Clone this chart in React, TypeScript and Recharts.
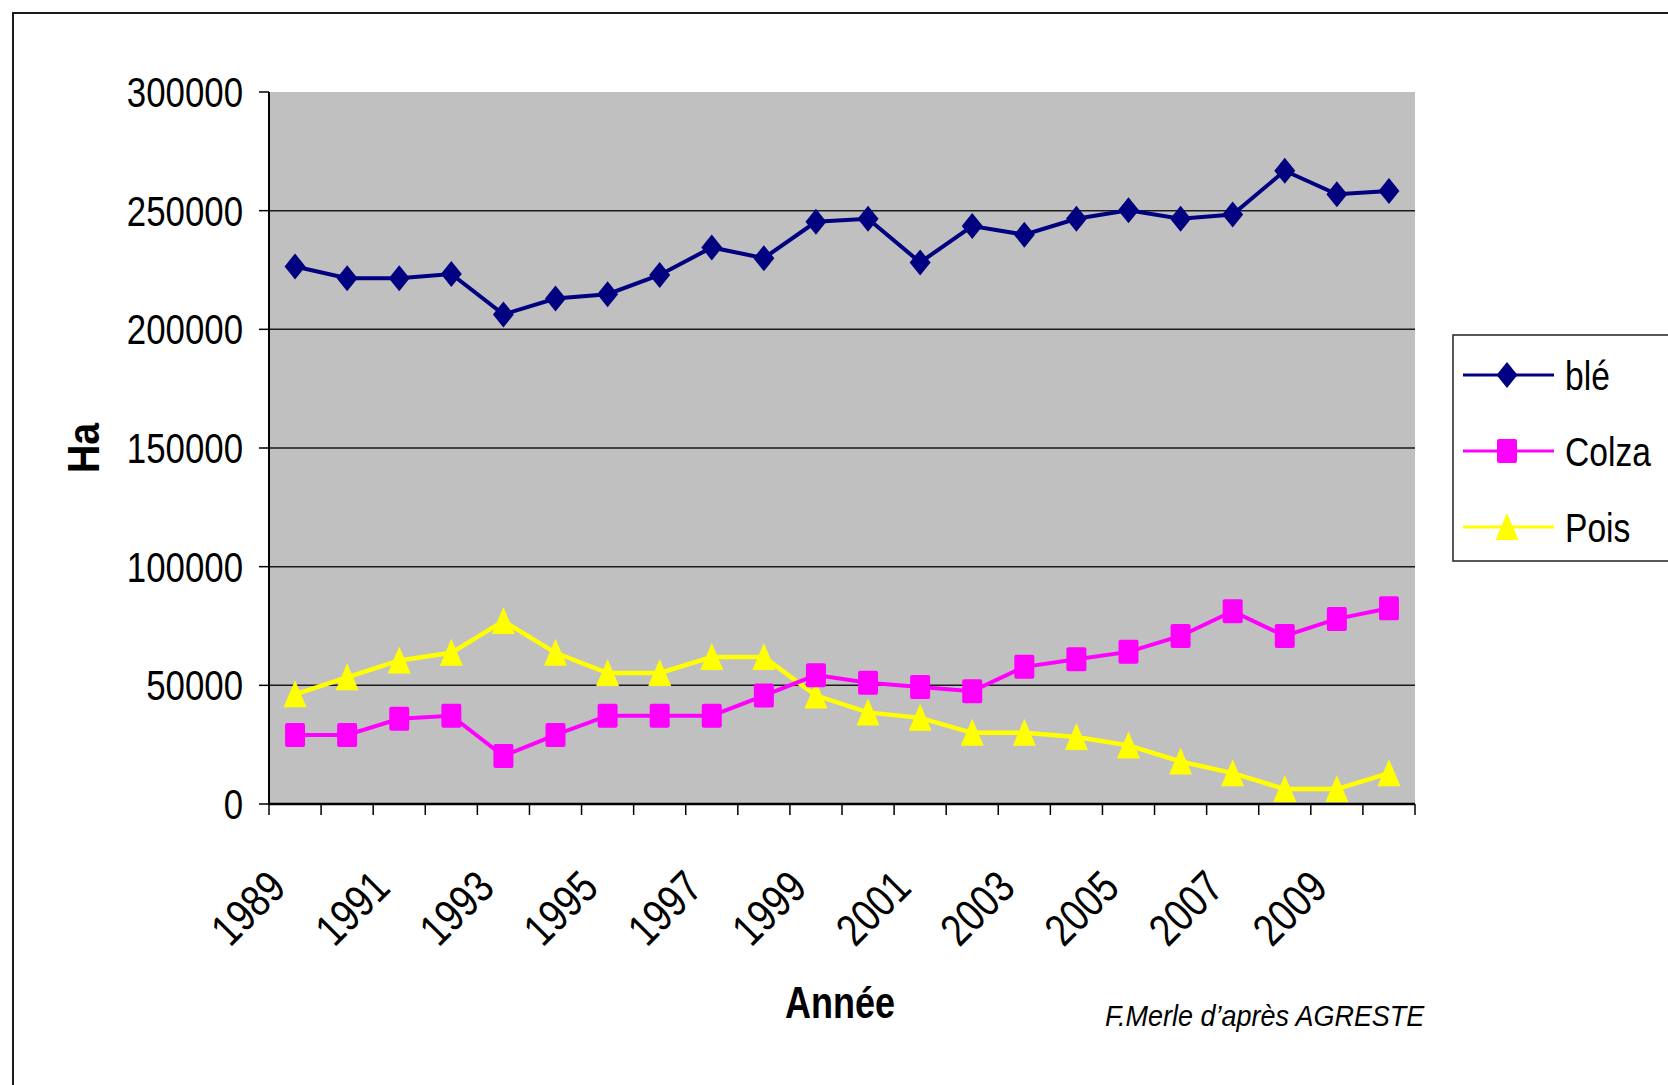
import React from 'react';
import { LineChart, Line, XAxis, YAxis, CartesianGrid, Legend } from 'recharts';

const YEARS = [
  '1989', '1990', '1991', '1992', '1993', '1994', '1995', '1996', '1997', '1998', '1999',
  '2000', '2001', '2002', '2003', '2004', '2005', '2006', '2007', '2008', '2009', '2010',
];

const BLE = [
  226500, 221500, 221500, 223300, 206300, 213000, 214800, 222900, 234500, 230000, 245300,
  246600, 228200, 243500, 239900, 246600, 250200, 246600, 248400, 266800, 256900, 258300,
];

const COLZA = [
  29100, 29100, 35900, 37200, 20200, 29100, 37200, 37200, 37200, 45700, 54300,
  51100, 49300, 47500, 57800, 61000, 64100, 70800, 81200, 70800, 78000, 82500,
];

const POIS = [
  46200, 53400, 60500, 63700, 77100, 63700, 55200, 55200, 61900, 61900, 45700,
  38600, 36300, 30000, 30000, 28200, 24700, 17900, 13000, 6300, 6300, 13000,
];

const Y_TICKS = [0, 50000, 100000, 150000, 200000, 250000, 300000];
const GRID_VALUES = [50000, 100000, 150000, 200000, 250000];

// no narrow font installed: squeeze Liberation Sans horizontally instead
const FONT = "'Liberation Sans', Arial, sans-serif";

const data = YEARS.map((year, i) => ({
  x: i + 0.5,
  year,
  ble: BLE[i],
  colza: COLZA[i],
  pois: POIS[i],
}));

// ticks at category boundaries (integers) and label slots at centres (x.5)
const X_TICKS: number[] = [];
for (let i = 0; i <= YEARS.length * 2; i++) X_TICKS.push(i / 2);

const NAVY = '#000080';
const MAGENTA = '#ff00ff';
const YELLOW = '#ffff00';

type NTProps = {
  x: number;
  y: number;
  size: number;
  squeeze?: number;
  anchor?: 'start' | 'middle' | 'end';
  rotate?: number;
  bold?: boolean;
  italic?: boolean;
  children: React.ReactNode;
};

const NarrowText = ({ x, y, size, squeeze = 0.82, anchor = 'start', rotate = 0, bold, italic, children }: NTProps) => (
  <g transform={`translate(${x},${y}) rotate(${rotate}) scale(${squeeze},1)`}>
    <text
      x={0}
      y={0}
      textAnchor={anchor}
      fontFamily={FONT}
      fontSize={size}
      fontWeight={bold ? 'bold' : 'normal'}
      fontStyle={italic ? 'italic' : 'normal'}
      fill="#000"
    >
      {children}
    </text>
  </g>
);

const diamond = (cx: number, cy: number, fill: string) => (
  <path d={`M${cx},${cy - 13}L${cx + 10.5},${cy}L${cx},${cy + 13}L${cx - 10.5},${cy}Z`} fill={fill} />
);
const square = (cx: number, cy: number, fill: string) => (
  <rect x={cx - 10} y={cy - 12} width={20} height={24} rx={2} fill={fill} />
);
const triangle = (cx: number, cy: number, fill: string) => (
  <path d={`M${cx},${cy - 14}L${cx + 11.5},${cy + 13}L${cx - 11.5},${cy + 13}Z`} fill={fill} />
);

const makeDot = (shape: (cx: number, cy: number, fill: string) => React.ReactElement, fill: string) =>
  (props: any) => {
    const { cx, cy, index } = props;
    if (cx == null || cy == null) return <g key={index} />;
    return <g key={index}>{shape(cx, cy, fill)}</g>;
  };

const XTick = (props: any) => {
  const { x, y, payload } = props;
  const v: number = payload.value;
  if (Number.isInteger(v)) {
    return <line x1={x} y1={y} x2={x} y2={y + 11} stroke="#000" strokeWidth={1.5} />;
  }
  const idx = Math.floor(v);
  if (idx % 2 !== 0) return <g />;
  return (
    <NarrowText x={x - 7} y={y + 86} size={45} anchor="end" rotate={-45}>
      {YEARS[idx]}
    </NarrowText>
  );
};

const YTick = (props: any) => {
  const { x, y, payload } = props;
  return (
    <NarrowText x={x} y={y + 15} size={43} squeeze={0.81} anchor="end">
      {payload.value}
    </NarrowText>
  );
};

const LEGEND_ITEMS = [
  { name: 'blé', color: NAVY, shape: diamond },
  { name: 'Colza', color: MAGENTA, shape: square },
  { name: 'Pois', color: YELLOW, shape: triangle },
];

const renderLegend = () => (
  <svg width={260} height={228} style={{ display: 'block' }}>
    <rect x={1} y={1} width={300} height={226} fill="#fff" stroke="#222" strokeWidth={1.5} />
    {LEGEND_ITEMS.map((it, i) => {
      const cy = 41 + i * 76;
      return (
        <g key={it.name}>
          <line x1={11} y1={cy} x2={102} y2={cy} stroke={it.color} strokeWidth={3} />
          {it.shape(55, cy, it.color)}
          <NarrowText x={113} y={cy + 15} size={41}>
            {it.name}
          </NarrowText>
        </g>
      );
    })}
  </svg>
);

export default function App() {
  return (
    <div
      style={{
        position: 'absolute',
        left: 0,
        top: 0,
        width: 1668,
        height: 1085,
        overflow: 'hidden',
        background: '#fff',
      }}
    >
      <div
        style={{
          position: 'absolute',
          left: 12,
          top: 12,
          width: 1700,
          height: 1100,
          border: '2px solid #1a1a1a',
        }}
      />
      <div style={{ position: 'absolute', left: 0, top: 0 }}>
        <LineChart
          width={1668}
          height={1085}
          data={data}
          margin={{ top: 92, right: 253, bottom: 181, left: 169 }}
        >
          <CartesianGrid
            vertical={false}
            horizontalValues={GRID_VALUES}
            fill="#c0c0c0"
            fillOpacity={1}
            stroke="#1a1a1a"
            strokeWidth={1.5}
          />
          <XAxis
            dataKey="x"
            type="number"
            domain={[0, 22]}
            ticks={X_TICKS}
            interval={0}
            height={100}
            tickLine={false}
            tickSize={0}
            tickMargin={0}
            axisLine={{ stroke: '#000', strokeWidth: 2.5 }}
            tick={<XTick />}
          />
          <XAxis
            xAxisId="top"
            orientation="top"
            dataKey="x"
            type="number"
            domain={[0, 22]}
            height={0}
            tick={false}
            tickLine={false}
            axisLine={{ stroke: '#808080', strokeWidth: 4 }}
          />
          <YAxis
            domain={[0, 300000]}
            ticks={Y_TICKS}
            interval={0}
            width={100}
            tickSize={10}
            tickMargin={16}
            tickLine={{ stroke: '#000', strokeWidth: 1.5 }}
            axisLine={{ stroke: '#000', strokeWidth: 2 }}
            tick={<YTick />}
          />
          <YAxis
            yAxisId="right"
            orientation="right"
            domain={[0, 300000]}
            width={0}
            tick={false}
            tickLine={false}
            axisLine={{ stroke: '#808080', strokeWidth: 3 }}
          />
          <Legend
            layout="horizontal"
            verticalAlign="middle"
            align="center"
            content={renderLegend}
            wrapperStyle={{ left: 1452, top: 334, width: 260, height: 228 }}
          />
          <Line
            type="linear"
            dataKey="pois"
            name="Pois"
            stroke={YELLOW}
            strokeWidth={4.5}
            dot={makeDot(triangle, YELLOW)}
            activeDot={false}
            isAnimationActive={false}
          />
          <Line
            type="linear"
            dataKey="colza"
            name="Colza"
            stroke={MAGENTA}
            strokeWidth={4}
            dot={makeDot(square, MAGENTA)}
            activeDot={false}
            isAnimationActive={false}
          />
          <Line
            type="linear"
            dataKey="ble"
            name="blé"
            stroke={NAVY}
            strokeWidth={4}
            dot={makeDot(diamond, NAVY)}
            activeDot={false}
            isAnimationActive={false}
          />
        </LineChart>
      </div>
      <svg
        width={1668}
        height={1085}
        style={{ position: 'absolute', left: 0, top: 0, pointerEvents: 'none' }}
      >
        <NarrowText x={99} y={448} size={45} squeeze={0.87} anchor="middle" rotate={-90} bold>
          Ha
        </NarrowText>
        <NarrowText x={840} y={1018} size={45} squeeze={0.8} anchor="middle" bold>
          Année
        </NarrowText>
        <NarrowText x={1105} y={1026} size={30} squeeze={0.9} italic>
          F.Merle d’après AGRESTE
        </NarrowText>
      </svg>
    </div>
  );
}
